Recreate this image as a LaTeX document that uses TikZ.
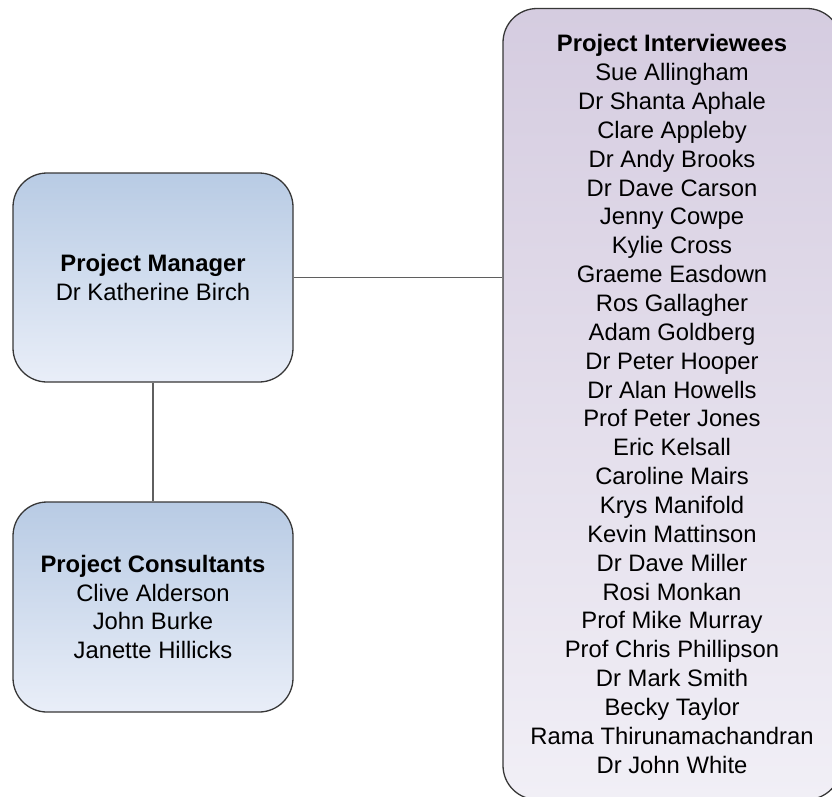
\documentclass[tikz,border=0pt]{standalone}
\usepackage{fontspec}
\setmainfont{Liberation Sans}
\definecolor{bluetop}{RGB}{184,203,228}
\definecolor{bluebot}{RGB}{233,238,248}
\definecolor{lavtop}{RGB}{213,204,224}
\definecolor{lavbot}{RGB}{241,239,246}
\definecolor{edge}{RGB}{55,55,55}
\definecolor{link}{RGB}{95,95,95}
\begin{document}
\begin{tikzpicture}[x=1pt,y=-1pt,
  box/.style={draw=edge,line width=1.3pt,rounded corners=34pt,inner sep=0pt,
    align=center,font=\fontsize{23.8}{28.85}\selectfont,text=black},
  bluebox/.style={box,top color=bluetop,bottom color=bluebot},
  lavbox/.style={box,top color=lavtop,bottom color=lavbot},
  conn/.style={draw=link,line width=1.5pt}]
\useasboundingbox (0,0) rectangle (832,796);
\clip (0,0) rectangle (832,796);
\node[bluebox,minimum width=280pt,minimum height=209pt] (mgr) at (153,277.5)
  {\textbf{Project Manager}\\Dr Katherine Birch};
\node[bluebox,minimum width=280pt,minimum height=210pt] (con) at (153,607)
  {\textbf{Project Consultants}\\Clive Alderson\\John Burke\\Janette Hillicks};
\node[lavbox,minimum width=338pt,minimum height=791pt] (int) at (672,404)
  {\textbf{Project Interviewees}\\Sue Allingham\\Dr Shanta Aphale\\Clare Appleby\\Dr Andy Brooks\\Dr Dave Carson\\Jenny Cowpe\\Kylie Cross\\Graeme Easdown\\Ros Gallagher\\Adam Goldberg\\Dr Peter Hooper\\Dr Alan Howells\\Prof Peter Jones\\Eric Kelsall\\Caroline Mairs\\Krys Manifold\\Kevin Mattinson\\Dr Dave Miller\\Rosi Monkan\\Prof Mike Murray\\Prof Chris Phillipson\\Dr Mark Smith\\Becky Taylor\\Rama Thirunamachandran\\Dr John White};
\draw[conn] (mgr.east) -- (int.west |- mgr.east);
\draw[conn] (mgr.south) -- (con.north);
\end{tikzpicture}
\end{document}
